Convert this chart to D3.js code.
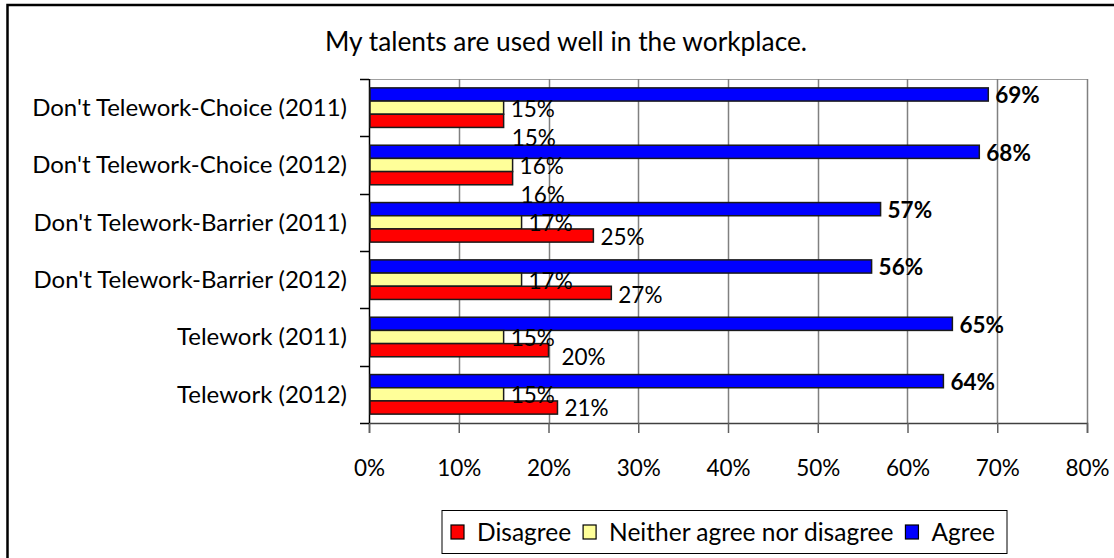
<!DOCTYPE html>
<html>
<head>
<meta charset="utf-8">
<script src="https://cdn.jsdelivr.net/npm/d3@7"></script>
<style>
  html, body { margin: 0; padding: 0; background: #fff; }
  svg { display: block; font-family: Lato, "Open Sans", sans-serif; }
</style>
</head>
<body>
<svg id="chart" width="1114" height="558"></svg>
<script>
// Survey item and groups
const title = "My talents are used well in the workplace.";
const categories = [
  "Don't Telework-Choice (2011)",
  "Don't Telework-Choice (2012)",
  "Don't Telework-Barrier (2011)",
  "Don't Telework-Barrier (2012)",
  "Telework (2011)",
  "Telework (2012)"
];
const seriesNames = ["Disagree", "Neither agree nor disagree", "Agree"];
const disagree = [0.15, 0.16, 0.25, 0.27, 0.20, 0.21];
const neither  = [0.15, 0.16, 0.17, 0.17, 0.15, 0.15];
const agree    = [0.69, 0.68, 0.57, 0.56, 0.65, 0.64];
const xTicks = [0, 0.1, 0.2, 0.3, 0.4, 0.5, 0.6, 0.7, 0.8];

const colors = { "Disagree": "#ff0000", "Neither agree nor disagree": "#ffff99", "Agree": "#0000ff" };
const values = { "Disagree": disagree, "Neither agree nor disagree": neither, "Agree": agree };

const svg = d3.select("#chart");
const fs = { title: 26.3, category: 24, tick: 22.5, label: 22.5, legend: 24.5 };

// chart frame (runs past the right and bottom edges)
svg.append("rect")
  .attr("x", 7.5).attr("y", 5)
  .attr("width", 1130).attr("height", 580)
  .attr("fill", "#fff").attr("stroke", "#000").attr("stroke-width", 2.5);

const plot = { left: 369, right: 1087, top: 79, bottom: 423 };

const x = d3.scaleLinear().domain([0, 0.8]).range([plot.left, plot.right]);
const y0 = d3.scaleBand().domain(categories)
  .range([plot.top, plot.bottom]).paddingInner(0.31).paddingOuter(0.155);
// bars within each group: Agree on top, Disagree at the bottom
const barOrder = ["Agree", "Neither agree nor disagree", "Disagree"];
const y1 = d3.scaleBand().domain(barOrder).range([0, y0.bandwidth()]);

// title
svg.append("text")
  .attr("x", 566).attr("y", 51)
  .attr("text-anchor", "middle")
  .attr("font-size", fs.title).attr("fill", "#000")
  .text(title);

// plot top border
svg.append("line")
  .attr("x1", plot.left).attr("x2", plot.right)
  .attr("y1", plot.top + 0.5).attr("y2", plot.top + 0.5)
  .attr("stroke", "#a0a0a0").attr("stroke-width", 1);

// vertical gridlines
svg.append("g").selectAll("line").data(xTicks.slice(1)).join("line")
  .attr("x1", d => Math.round(x(d)) + 0.5).attr("x2", d => Math.round(x(d)) + 0.5)
  .attr("y1", plot.top).attr("y2", plot.bottom)
  .attr("stroke", "#808080").attr("stroke-width", 1.5);

// x axis
const xAxis = d3.axisBottom(x).tickValues(xTicks).tickSize(10).tickFormat(d3.format(".0%"));
const gx = svg.append("g").attr("transform", `translate(0,${plot.bottom})`).call(xAxis);
gx.select(".domain").attr("stroke", "#404040").attr("stroke-width", 1.5);
gx.selectAll(".tick line").attr("stroke", "#606060").attr("stroke-width", 1.5);
gx.selectAll(".tick text")
  .attr("font-size", fs.tick).attr("font-family", "Lato, sans-serif")
  .attr("fill", "#000").attr("y", 37).attr("dy", "0.71em");

// y axis line and ticks at band boundaries
const step = y0.step();
const bounds = d3.range(categories.length + 1).map(i => plot.top + i * step);
svg.append("line")
  .attr("x1", plot.left + 0.5).attr("x2", plot.left + 0.5)
  .attr("y1", plot.top).attr("y2", plot.bottom)
  .attr("stroke", "#000").attr("stroke-width", 1.5);
svg.append("g").selectAll("line").data(bounds).join("line")
  .attr("x1", plot.left - 9).attr("x2", plot.left)
  .attr("y1", d => Math.round(d) + 0.5).attr("y2", d => Math.round(d) + 0.5)
  .attr("stroke", "#000").attr("stroke-width", 1.5);

// category labels
svg.append("g").selectAll("text").data(categories).join("text")
  .attr("x", 347)
  .attr("y", d => plot.top + categories.indexOf(d) * step + step / 2)
  .attr("dy", "0.35em")
  .attr("text-anchor", "end")
  .attr("font-size", fs.category).attr("fill", "#000")
  .text(d => d);

// bars
const rows = [];
categories.forEach((c, i) => {
  barOrder.forEach(s => rows.push({ cat: c, i, series: s, value: values[s][i] }));
});

const bars = svg.append("g");
bars.selectAll("rect").data(rows).join("rect")
  .attr("x", plot.left + 1)
  .attr("y", d => y0(d.cat) + y1(d.series))
  .attr("width", d => x(d.value) - plot.left - 1)
  .attr("height", y1.bandwidth())
  .attr("fill", d => colors[d.series])
  .attr("stroke", "#1a1a1a").attr("stroke-width", 1.5);

// data labels; Disagree labels on the first groups sit beneath their bars
const disagreeShift = [17, 17, 2, 2, 7, 1];
const disagreeGap = [8, 8, 7, 7, 13, 7];
svg.append("g").selectAll("text").data(rows).join("text")
  .attr("x", d => x(d.value) + (d.series === "Disagree" ? disagreeGap[d.i] : 7))
  .attr("y", d => y0(d.cat) + y1(d.series) + y1.bandwidth() / 2
      + (d.series === "Disagree" ? disagreeShift[d.i] : 1))
  .attr("dy", "0.35em")
  .attr("font-size", fs.label)
  .attr("font-weight", d => d.series === "Agree" ? "bold" : "normal")
  .attr("fill", "#000")
  .text(d => d3.format(".0%")(d.value));

// legend
const legend = svg.append("g");
legend.append("rect")
  .attr("x", 442).attr("y", 510.5).attr("width", 565).attr("height", 43)
  .attr("fill", "#fff").attr("stroke", "#000").attr("stroke-width", 1);
let lx = 451;
seriesNames.forEach(s => {
  legend.append("rect")
    .attr("x", lx).attr("y", 525).attr("width", 13).attr("height", 14)
    .attr("fill", colors[s]).attr("stroke", "#000").attr("stroke-width", 1.2);
  const t = legend.append("text")
    .attr("x", lx + 26).attr("y", 532).attr("dy", "0.35em")
    .attr("font-size", fs.legend).attr("fill", "#000")
    .text(s);
  lx += 26 + t.node().getComputedTextLength() + 12;
});
</script>
</body>
</html>
